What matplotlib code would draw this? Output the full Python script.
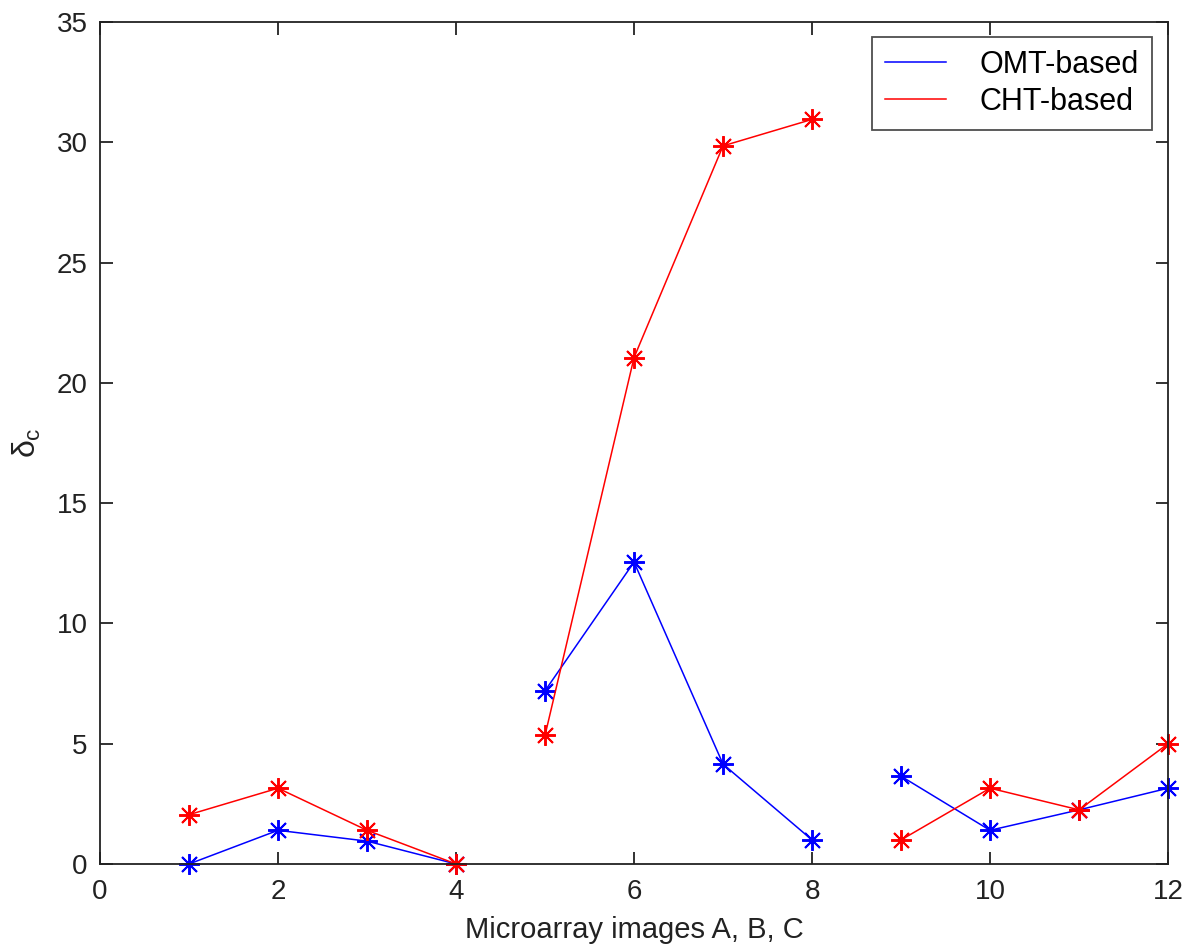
import numpy as np
import matplotlib
matplotlib.use("Agg")
import matplotlib.pyplot as plt

plt.rcParams['font.family'] = ['Liberation Sans', 'DejaVu Sans']
plt.rcParams['mathtext.fontset'] = 'custom'
plt.rcParams['mathtext.rm'] = 'Liberation Sans'
plt.rcParams['mathtext.it'] = 'Liberation Sans'

# Image sets A, B, C (four images each)
x_groups = [[1, 2, 3, 4], [5, 6, 7, 8], [9, 10, 11, 12]]
omt_groups = [[0.0, 1.4, 0.95, 0.0], [7.2, 12.55, 4.15, 1.0], [3.65, 1.4, 2.25, 3.15]]
cht_groups = [[2.05, 3.15, 1.4, 0.0], [5.35, 21.05, 29.85, 30.95], [1.0, 3.15, 2.25, 5.0]]

series = [("OMT-based", omt_groups, "#0000ff"), ("CHT-based", cht_groups, "#ff0000")]

fig = plt.figure(figsize=(11.88, 9.51), dpi=100)
ax = fig.add_axes([0.0842, 0.0915, 0.8990, 0.8854])

star = (8, 2, 0)
for name, groups, color in series:
    for i, (xs, ys) in enumerate(zip(x_groups, groups)):
        ax.plot(xs, ys, color=color, lw=1.1, marker=star, markersize=15,
                markeredgewidth=1.4, label=name if i == 0 else None,
                clip_on=False)

ax.set_xlim(0, 12)
ax.set_ylim(0, 35)
ax.set_xticks(np.arange(0, 13, 2))
ax.set_yticks(np.arange(0, 36, 5))
ax.tick_params(direction='in', top=True, right=True, length=9, width=1.3,
               labelsize=20, colors='#222222')
ax.tick_params(axis='x', pad=11)
ax.tick_params(axis='y', pad=9)
for s in ax.spines.values():
    s.set_linewidth(1.3)
    s.set_color('#222222')

ax.set_xlabel("Microarray images A, B, C", fontsize=21, labelpad=8, color='#222222')
ax.set_ylabel(r"$\delta_{c}$", fontsize=23, labelpad=10, color='#222222')

leg = ax.legend(loc='upper right', fontsize=22, frameon=True, fancybox=False,
                handlelength=2.0, handletextpad=1.1, borderpad=0.42,
                labelspacing=0.22, borderaxespad=0,
                bbox_to_anchor=(0.985, 0.982),
                edgecolor='#222222')
leg.get_frame().set_linewidth(1.3)
for h in leg.legend_handles:
    h.set_marker('')

fig.savefig("out.png", dpi=100, facecolor='white')
